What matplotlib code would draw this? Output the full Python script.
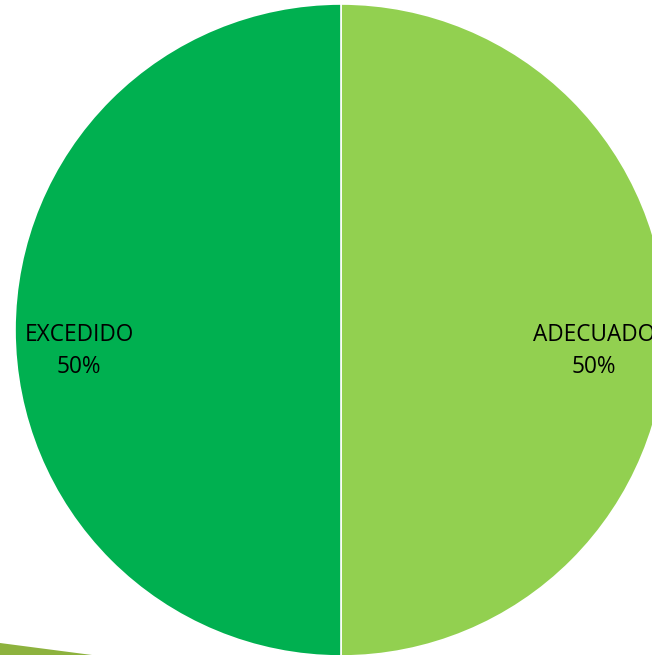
import matplotlib.pyplot as plt
from matplotlib.patches import Polygon

# ── data ──────────────────────────────────────────────
categorias = ["ADECUADO", "EXCEDIDO"]
valores = [50, 50]
colores = ["#92D050", "#00B050"]

# ── figure in pixel units ─────────────────────────────
W, H = 652, 655
fig = plt.figure(figsize=(W / 100, H / 100), dpi=100)
ax = fig.add_axes([0, 0, 1, 1])

cx, cy, r = 341, H - 330, 326

wedges, _ = ax.pie(valores, colors=colores, startangle=90, counterclock=False,
                   center=(cx, cy), radius=r, frame=True,
                   wedgeprops=dict(edgecolor="white", linewidth=1.2))
ax.set_xlim(0, W)
ax.set_ylim(0, H)
ax.set_aspect("equal")
ax.axis("off")

# labels inside each wedge
tot = sum(valores)
offsets = [(253, -21), (-262, -21)]
for cat, v, (dx, dy) in zip(categorias, valores, offsets):
    ax.text(cx + dx, cy + dy, f"{cat}\n{v / tot:.0%}", ha="center", va="center",
            fontsize=16.3, family="Open Sans", color="black", linespacing=1.45)

# sliver of another shape at the lower left corner
ax.add_patch(Polygon([(0, H - 643), (92, 0), (0, 0)], closed=True,
                     facecolor="#8DB23E", edgecolor="none"))

fig.savefig("out.png", dpi=100)
